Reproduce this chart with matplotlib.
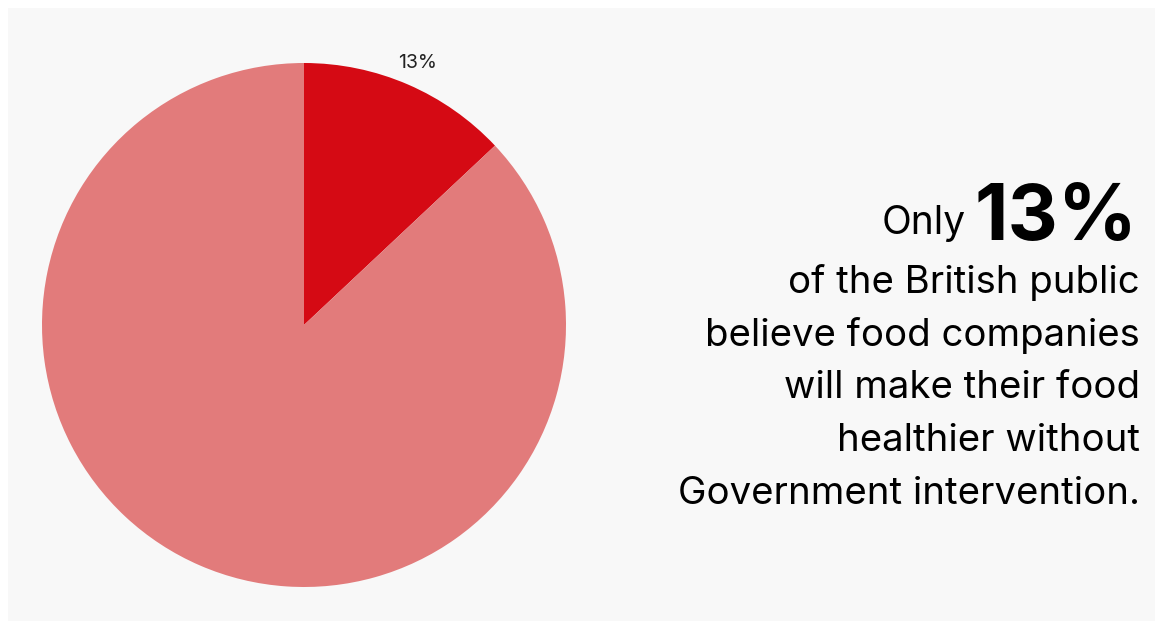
import matplotlib.pyplot as plt
from matplotlib.patches import Rectangle

plt.rcParams['font.family'] = ['Inter', 'DejaVu Sans']

# data
shares = [13, 87]
slice_labels = ['13%', '']
slice_colors = ['#d50a14', '#e27b7b']
headline = '13%'
body_lines = ['of the British public',
              'believe food companies',
              'will make their food',
              'healthier without',
              'Government intervention.']

W, H = 1155, 621
fig = plt.figure(figsize=(W / 100, H / 100), dpi=100, facecolor='white')
fig.patches.append(Rectangle((8 / W, 0), 1, 1 - 8 / H, transform=fig.transFigure,
                             facecolor='#f8f8f8', edgecolor='none', zorder=-5))

# pie: centre (304, 325) px from top, radius 262 px
cx, cy, r = 304, H - 325, 262
ax = fig.add_axes([(cx - r) / W, (cy - r) / H, 2 * r / W, 2 * r / H])
wedges, texts = ax.pie(shares, labels=slice_labels, colors=slice_colors,
                       startangle=90, counterclock=False, labeldistance=1.09,
                       textprops=dict(fontsize=14, color='#222222'),
                       wedgeprops=dict(linewidth=0))
for t in texts:
    t.set_ha('center')
    t.set_va('center')
ax.set_xlim(-1, 1)
ax.set_ylim(-1, 1)
ax.set_aspect('auto')
ax.axis('off')

# text block on the right
xr = 1140 / W
fig.text(1137 / W, 1 - 240 / H, headline, ha='right', va='baseline',
         fontsize=56, fontweight='bold', color='black')
fig.text(966 / W, 1 - 234 / H, 'Only', ha='right', va='baseline',
         fontsize=28, color='black')
for i, line in enumerate(body_lines):
    fig.text(xr, 1 - (293 + i * 52.7) / H, line, ha='right', va='baseline',
             fontsize=27.6, color='black')

fig.savefig('out.png', dpi=100, facecolor=fig.get_facecolor())
